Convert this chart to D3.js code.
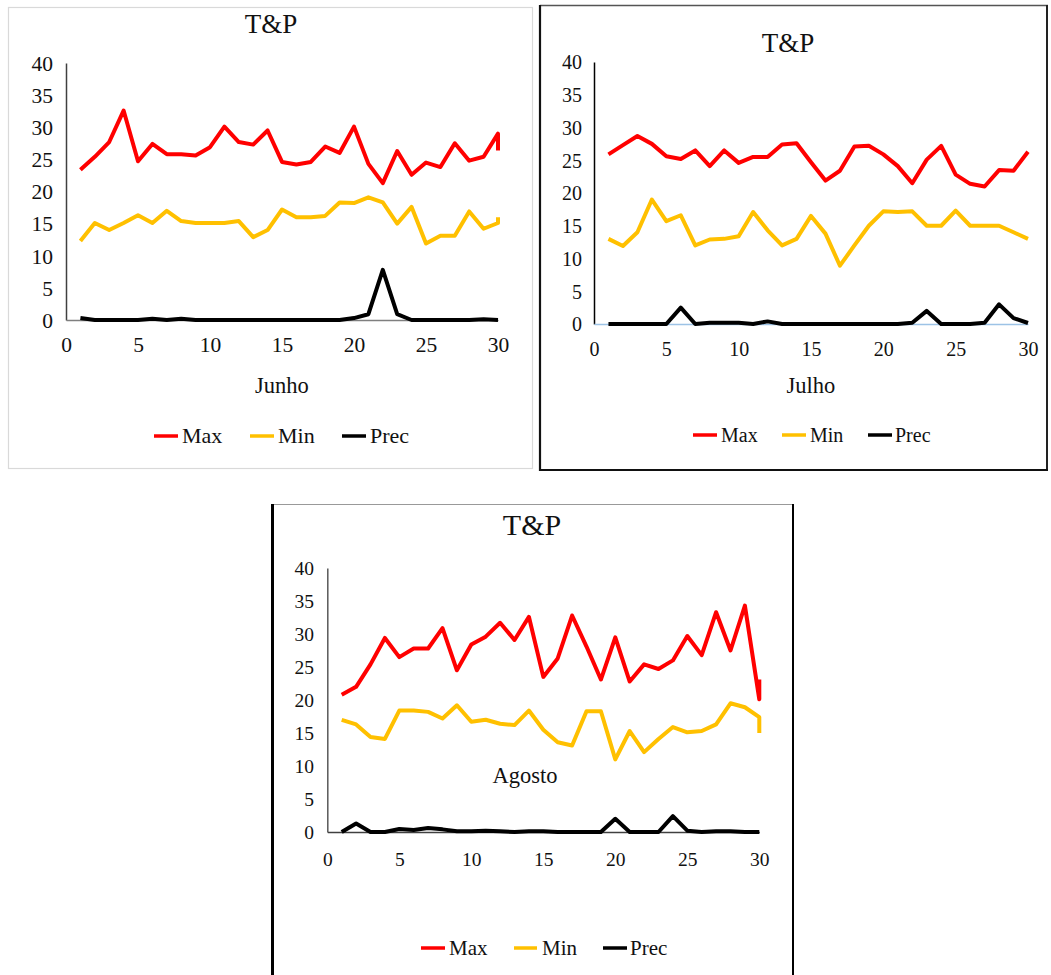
<!DOCTYPE html>
<html>
<head>
<meta charset="utf-8">
<script src="https://cdn.jsdelivr.net/npm/d3@7"></script>
<style>
  html, body { margin: 0; padding: 0; background: #fff; }
  svg { display: block; }
  text { font-family: "Liberation Serif", "Times New Roman", serif; fill: #111; }
</style>
</head>
<body>
<svg id="chart" width="1051" height="975"></svg>
<script>
// ---------- DATA ----------
const xTickValues = [0, 5, 10, 15, 20, 25, 30];
const yTickValues = [0, 5, 10, 15, 20, 25, 30, 35, 40];
const seriesNames = ["Max", "Min", "Prec"];
const chartTitle = "T&P";

// Junho (last day repeated, as in the source)
const junhoDays = [1,2,3,4,5,6,7,8,9,10,11,12,13,14,15,16,17,18,19,20,21,22,23,24,25,26,27,28,29,30,30];
const junhoMax  = [23.4,25.4,27.7,32.6,24.7,27.4,25.8,25.8,25.6,26.9,30.1,27.7,27.3,29.5,24.6,24.2,24.6,27.0,26.0,30.1,24.3,21.3,26.3,22.6,24.5,23.8,27.5,24.8,25.4,29.0,26.4];
const junhoMin  = [12.3,15.1,14.0,15.1,16.3,15.1,17.0,15.4,15.1,15.1,15.1,15.4,12.9,14.0,17.2,16.0,16.0,16.2,18.3,18.2,19.1,18.3,15.0,17.6,11.9,13.1,13.1,16.9,14.2,15.1,16.0];
const junhoPrec = [0.3,0,0,0,0,0.2,0,0.2,0,0,0,0,0,0,0,0,0,0,0,0.3,0.9,7.8,0.9,0,0,0,0,0,0.1,0,0];

// Julho
const julhoDays = [1,2,3,4,5,6,7,8,9,10,11,12,13,14,15,16,17,18,19,20,21,22,23,24,25,26,27,28,29,30];
const julhoMax  = [25.9,27.3,28.7,27.5,25.6,25.2,26.5,24.1,26.5,24.6,25.5,25.5,27.4,27.6,24.7,21.9,23.4,27.1,27.2,25.9,24.1,21.5,25.1,27.2,22.8,21.4,21.0,23.5,23.4,26.3];
const julhoMin  = [13.0,11.9,14.0,19.0,15.7,16.6,12.0,12.9,13.0,13.4,17.1,14.3,12.0,13.0,16.5,13.8,8.9,12.0,15.0,17.2,17.1,17.2,15.0,15.0,17.3,15.0,15.0,15.0,14.0,13.0];
const julhoPrec = [0,0,0,0,0,2.5,0,0.2,0.2,0.2,0,0.4,0,0,0,0,0,0,0,0,0,0.2,2.0,0,0,0,0.2,3.0,0.9,0.15];

// Agosto (last day repeated, as in the source)
const agostoDays = [1,2,3,4,5,6,7,8,9,10,11,12,13,14,15,16,17,18,19,20,21,22,23,24,25,26,27,28,29,30,30];
const agostoMax  = [20.8,22.0,25.4,29.4,26.5,27.8,27.8,30.9,24.5,28.4,29.6,31.7,29.1,32.6,23.5,26.3,32.8,28.1,23.1,29.5,22.8,25.4,24.7,26.0,29.7,26.8,33.3,27.5,34.3,20.1,23.1];
const agostoMin  = [17.0,16.3,14.4,14.1,18.4,18.4,18.2,17.2,19.2,16.7,17.0,16.4,16.2,18.4,15.5,13.6,13.1,18.3,18.3,11.0,15.3,12.1,14.1,15.9,15.1,15.3,16.3,19.5,18.9,17.4,15.0];
const agostoPrec = [0,1.3,0,0,0.45,0.3,0.6,0.4,0.1,0.1,0.2,0.1,0,0.1,0.1,0,0,0,0,2.0,0,0,0,2.4,0.2,0,0.1,0.1,0,0,0];

const seriesColors = ["#FF0000", "#FFC000", "#000000"];

// ---------- LAYOUT ----------
const svg = d3.select("#chart");

const panels = [
  {
    name: "Junho", days: junhoDays, values: [junhoMax, junhoMin, junhoPrec],
    x0: 66, x1: 498, y0: 320, y1: 63,
    tickFont: 21.5, yLabelX: 53, xLabelY: 352,
    titleX: 271, titleY: 33, titleFont: 27,
    axisTitleX: 282, axisTitleY: 393,
    legendY: 436, legendFont: 22,
    legend: [[154, 178, 182], [250, 274, 278], [342, 366, 370]],
    yAxisColor: "#404040", xAxisColor: "#7f7f7f"
  },
  {
    name: "Julho", days: julhoDays, values: [julhoMax, julhoMin, julhoPrec],
    x0: 594, x1: 1028, y0: 324, y1: 62,
    tickFont: 20, yLabelX: 582, xLabelY: 356,
    titleX: 788, titleY: 52, titleFont: 27,
    axisTitleX: 811, axisTitleY: 393,
    legendY: 435, legendFont: 20,
    legend: [[693, 717, 721], [782, 806, 810], [868, 892, 895]],
    yAxisColor: "#000000", xAxisColor: "#9DC3E6"
  },
  {
    name: "Agosto", days: agostoDays, values: [agostoMax, agostoMin, agostoPrec],
    x0: 327.3, x1: 759.3, y0: 832, y1: 568,
    tickFont: 19.5, yLabelX: 314, xLabelY: 866,
    titleX: 532, titleY: 535, titleFont: 30,
    axisTitleX: 525, axisTitleY: 783,
    legendY: 948, legendFont: 21,
    legend: [[421, 445, 449], [514, 537, 542], [603, 627, 630]],
    yAxisColor: "#595959", xAxisColor: "#404040"
  }
];

// ---------- FRAMES ----------
// Junho frame
svg.append("rect").attr("x", 8.5).attr("y", 7.5).attr("width", 524).attr("height", 461)
  .attr("fill", "none").attr("stroke", "#d9d9d9").attr("stroke-width", 1.2);
// Julho frame
svg.append("line").attr("x1", 540).attr("x2", 1048).attr("y1", 5.5).attr("y2", 5.5).attr("stroke", "#555").attr("stroke-width", 1.3);
svg.append("line").attr("x1", 1047).attr("x2", 1047).attr("y1", 5).attr("y2", 471).attr("stroke", "#222").attr("stroke-width", 2);
svg.append("line").attr("x1", 540).attr("x2", 540).attr("y1", 5).attr("y2", 471).attr("stroke", "#111").attr("stroke-width", 2.2);
svg.append("line").attr("x1", 539).attr("x2", 1048).attr("y1", 470).attr("y2", 470).attr("stroke", "#111").attr("stroke-width", 2.2);
// Agosto frame
svg.append("line").attr("x1", 272).attr("x2", 794).attr("y1", 504.5).attr("y2", 504.5).attr("stroke", "#999").attr("stroke-width", 1.2);
svg.append("line").attr("x1", 272.5).attr("x2", 272.5).attr("y1", 504).attr("y2", 975).attr("stroke", "#000").attr("stroke-width", 3);
svg.append("line").attr("x1", 793).attr("x2", 793).attr("y1", 504).attr("y2", 975).attr("stroke", "#000").attr("stroke-width", 2);

// ---------- PANELS ----------
panels.forEach(p => {
  const g = svg.append("g");
  const x = d3.scaleLinear().domain([0, 30]).range([p.x0, p.x1]);
  const y = d3.scaleLinear().domain([0, 40]).range([p.y0, p.y1]);

  // Y axis
  const yAxis = d3.axisLeft(y).tickValues(yTickValues).tickSize(0).tickPadding(0).tickFormat(d3.format("d"));
  const ya = g.append("g").attr("transform", `translate(${p.x0},0)`).call(yAxis);
  ya.select(".domain").attr("stroke", p.yAxisColor).attr("stroke-width", 1.5);
  ya.selectAll("text")
    .attr("x", p.yLabelX - p.x0)
    .attr("dy", "0.34em")
    .attr("text-anchor", "end")
    .style("font-family", "'Liberation Serif', serif")
    .style("font-size", p.tickFont + "px")
    .attr("fill", "#222");

  // X axis
  const xAxis = d3.axisBottom(x).tickValues(xTickValues).tickSize(0).tickPadding(0).tickFormat(d3.format("d"));
  const xa = g.append("g").attr("transform", `translate(0,${p.y0})`).call(xAxis);
  xa.select(".domain").attr("stroke", p.xAxisColor).attr("stroke-width", 1.5);
  xa.selectAll("text")
    .attr("y", p.xLabelY - p.y0)
    .attr("dy", 0)
    .style("font-family", "'Liberation Serif', serif")
    .style("font-size", p.tickFont + "px")
    .attr("fill", "#222");

  // Lines
  const line = d3.line()
    .x((d, i) => x(p.days[i]))
    .y(d => y(d));
  p.values.forEach((vals, si) => {
    g.append("path")
      .datum(vals)
      .attr("d", line)
      .attr("fill", "none")
      .attr("stroke", seriesColors[si])
      .attr("stroke-width", 4)
      .attr("stroke-linejoin", "round")
      .attr("stroke-linecap", "butt");
  });

  // Title
  svg.append("text").attr("x", p.titleX).attr("y", p.titleY)
    .attr("text-anchor", "middle").style("font-size", p.titleFont + "px").text(chartTitle);

  // Axis title (month)
  svg.append("text").attr("x", p.axisTitleX).attr("y", p.axisTitleY)
    .attr("text-anchor", "middle").style("font-size", "22.5px").attr("fill", "#222").text(p.name);

  // Legend
  seriesNames.forEach((nm, si) => {
    const L = p.legend[si];
    svg.append("line").attr("x1", L[0]).attr("x2", L[1])
      .attr("y1", p.legendY).attr("y2", p.legendY)
      .attr("stroke", seriesColors[si]).attr("stroke-width", 3.5);
    svg.append("text").attr("x", L[2]).attr("y", p.legendY).attr("dy", "0.34em")
      .style("font-size", p.legendFont + "px").attr("fill", "#222").text(nm);
  });
});
</script>
</body>
</html>
